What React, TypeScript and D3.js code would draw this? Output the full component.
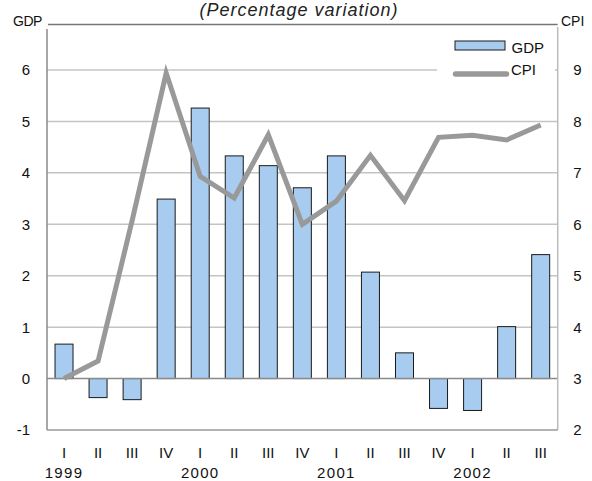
import React from "react";
import * as d3 from "d3";

const quarters = ["I", "II", "III", "IV", "I", "II", "III", "IV", "I", "II", "III", "IV", "I", "II", "III"];
const years = [
  { label: "1999", index: 0 },
  { label: "2000", index: 4 },
  { label: "2001", index: 8 },
  { label: "2002", index: 12 },
];
const gdp = [0.67, -0.37, -0.41, 3.49, 5.26, 4.33, 4.14, 3.71, 4.33, 2.07, 0.5, -0.58, -0.62, 1.01, 2.41];
const cpi = [3.0, 3.34, 6.07, 8.94, 6.93, 6.51, 7.74, 6.0, 6.45, 7.34, 6.46, 7.69, 7.73, 7.64, 7.93];
const gdpTicks = [-1, 0, 1, 2, 3, 4, 5, 6];
const cpiTicks = [2, 3, 4, 5, 6, 7, 8, 9];

const W = 592;
const H = 481;
const left = 47;
const right = 557.7;
const bottom = 430;
const font = "'Liberation Sans', Arial, sans-serif";

export default function App() {
  const x = d3
    .scaleBand<number>()
    .domain(d3.range(quarters.length))
    .range([left, right])
    .paddingInner(0.47)
    .paddingOuter(0.235);
  const yG = d3.scaleLinear().domain([-1, 6]).range([bottom, 70]);
  const yC = d3.scaleLinear().domain([2, 9]).range([bottom, 70]);
  const cx = (i: number) => (x(i) as number) + x.bandwidth() / 2;
  const bw = 18;

  const line = d3
    .line<number>()
    .x((_, i) => cx(i))
    .y((d) => yC(d));

  return (
    <svg width={W} height={H} style={{ position: "absolute", left: 0, top: 0, background: "#fff" }} fontFamily={font}>
      {/* title */}
      <text x={299} y={16} textAnchor="middle" fontSize={18} letterSpacing={1} fontStyle="italic" fill="#222">
        (Percentage variation)
      </text>
      {/* gridlines */}
      {gdpTicks
        .filter((t) => t > 0)
        .map((t) => (
          <line key={t} x1={left} x2={right} y1={yG(t)} y2={yG(t)} stroke="#c4c4c4" strokeWidth={1.5} />
        ))}
      {/* legend background */}
      <rect x={437} y={31} width={118} height={58} fill="#fff" />
      {/* bars */}
      {gdp.map((v, i) => (
        <rect
          key={i}
          x={cx(i) - bw / 2}
          y={yG(Math.max(0, v))}
          width={bw}
          height={Math.abs(yG(v) - yG(0))}
          fill="#a8cbf0"
          stroke="#1a1a1a"
          strokeWidth={1}
        />
      ))}
      {/* zero line */}
      <line x1={left} x2={right} y1={yG(0)} y2={yG(0)} stroke="#8a8a8a" strokeWidth={1.5} />
      {/* CPI line */}
      <path d={line(cpi) || ""} fill="none" stroke="#999" strokeWidth={5} strokeLinejoin="miter" />
      {/* axes frame */}
      <line x1={48} x2={right} y1={24.5} y2={24.5} stroke="#777" strokeWidth={1.5} />
      <line x1={left} x2={left} y1={29} y2={bottom} stroke="#8a8a8a" strokeWidth={1.5} />
      <line x1={right} x2={right} y1={27} y2={bottom} stroke="#bbb" strokeWidth={1.5} />
      <line x1={left} x2={right} y1={bottom} y2={bottom} stroke="#999" strokeWidth={1.5} />
      {/* axis titles */}
      <text x={13} y={26} fontSize={14} fill="#111" letterSpacing={-0.5}>GDP</text>
      <text x={561} y={26} fontSize={14} fill="#111">CPI</text>
      {/* left ticks */}
      {gdpTicks.map((t) => (
        <text key={t} x={30} y={yG(t)} dy="0.36em" textAnchor="end" fontSize={15} fill="#111">
          {t}
        </text>
      ))}
      {/* right ticks */}
      {cpiTicks.map((t) => (
        <text key={t} x={577.5} y={yC(t)} dy="0.36em" textAnchor="middle" fontSize={15} fill="#111">
          {t}
        </text>
      ))}
      {/* x labels */}
      {quarters.map((q, i) => (
        <text key={i} x={cx(i)} y={458} textAnchor="middle" fontSize={15} fill="#111">
          {q}
        </text>
      ))}
      {years.map((yv) => (
        <text key={yv.label} x={cx(yv.index)} y={478} textAnchor="middle" fontSize={15} letterSpacing={1.3} fill="#111">
          {yv.label}
        </text>
      ))}
      {/* legend */}
      <rect x={455} y={41} width={50} height={9} fill="#a8cbf0" stroke="#1a1a1a" strokeWidth={1} />
      <text x={511.5} y={52.5} fontSize={15} fill="#111">GDP</text>
      <line x1={455.5} x2={506.5} y1={74} y2={74} stroke="#999" strokeWidth={5.5} strokeLinecap="round" />
      <text x={511} y={75} fontSize={15} fill="#111">CPI</text>
    </svg>
  );
}
